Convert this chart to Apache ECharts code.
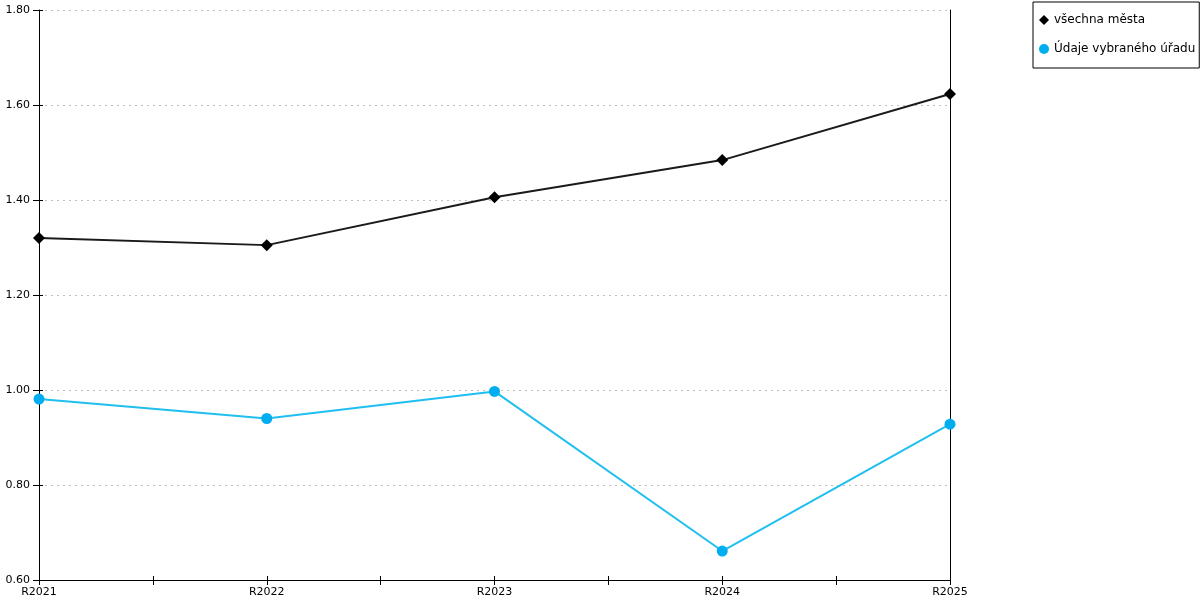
<!DOCTYPE html>
<html>
<head>
<meta charset="utf-8">
<script src="https://cdn.jsdelivr.net/npm/echarts@6/dist/echarts.min.js"></script>
<style>html,body{margin:0;padding:0;background:#fff}#c{width:1200px;height:600px}</style>
</head>
<body>
<div id="c"></div>
<script>
const categories = ['R2021', 'R2022', 'R2023', 'R2024', 'R2025'];
const seriesNames = ['všechna města', 'Údaje vybraného úřadu'];
const allCities = [1.320, 1.305, 1.406, 1.484, 1.623];
const selectedOffice = [0.981, 0.940, 0.997, 0.661, 0.928];
const yTicks = { min: 0.6, max: 1.8, interval: 0.2 };

const FONT = 'DejaVu Sans';
const chart = echarts.init(document.getElementById('c'));
const toPts = arr => arr.map((v, i) => [i, v]);
const xBase = {
  type: 'value', min: 0, max: categories.length - 1, interval: 0.5,
  splitLine: { show: false }
};
chart.setOption({
  animation: false,
  backgroundColor: '#fff',
  grid: { left: 39, right: 250, top: 10, bottom: 20, containLabel: false },
  legend: {
    orient: 'vertical', left: 1033, top: 2,
    padding: [12, 4, 13, 6], itemGap: 17, itemWidth: 10, itemHeight: 10,
    borderColor: '#000', borderWidth: 1, backgroundColor: '#fff',
    textStyle: { fontFamily: FONT, fontSize: 12, color: '#000' },
    data: [
      { name: seriesNames[0], icon: 'diamond', itemStyle: { color: '#000' } },
      { name: seriesNames[1], icon: 'circle', itemStyle: { color: '#00adef' } }
    ]
  },
  xAxis: [
    Object.assign({}, xBase, {
      position: 'bottom',
      axisLine: { show: true, lineStyle: { color: '#000', width: 1 } },
      axisTick: { show: true, inside: false, length: 5, lineStyle: { color: '#000' } },
      axisLabel: {
        show: true, margin: 7, fontFamily: FONT, fontSize: 11, color: '#000',
        showMinLabel: true, showMaxLabel: true,
        formatter: v => Number.isInteger(v) ? categories[v] : ''
      }
    }),
    Object.assign({}, xBase, {
      position: 'bottom',
      axisLine: { show: false },
      axisTick: { show: true, inside: true, length: 4, lineStyle: { color: '#000' } },
      axisLabel: { show: false }
    })
  ],
  yAxis: [
    {
      type: 'value', position: 'left', min: yTicks.min, max: yTicks.max, interval: yTicks.interval,
      axisLine: { show: true, lineStyle: { color: '#000', width: 1 } },
      axisTick: { show: true, inside: false, length: 6, lineStyle: { color: '#000' } },
      axisLabel: { margin: 9, fontFamily: FONT, fontSize: 11, color: '#000', formatter: v => v.toFixed(2) },
      splitLine: { show: true, lineStyle: { color: '#c0c0c0', type: [2, 4], width: 1 } }
    },
    {
      type: 'value', position: 'left', min: yTicks.min, max: yTicks.max, interval: yTicks.interval,
      axisLine: { show: false },
      axisTick: { show: true, inside: true, length: 4, lineStyle: { color: '#000' } },
      axisLabel: { show: false }, splitLine: { show: false }
    },
    {
      type: 'value', position: 'right', min: yTicks.min, max: yTicks.max, interval: yTicks.interval,
      axisLine: { show: true, lineStyle: { color: '#000', width: 1 } },
      axisTick: { show: false }, axisLabel: { show: false }, splitLine: { show: false }
    }
  ],
  series: [
    {
      name: seriesNames[0], type: 'line', data: toPts(allCities),
      symbol: 'diamond', symbolSize: 12,
      lineStyle: { color: '#1a1a1a', width: 2 },
      itemStyle: { color: '#000' }
    },
    {
      name: seriesNames[1], type: 'line', data: toPts(selectedOffice),
      symbol: 'circle', symbolSize: 11,
      lineStyle: { color: '#20bff0', width: 2 },
      itemStyle: { color: '#00adef' }
    }
  ]
});
</script>
</body>
</html>
